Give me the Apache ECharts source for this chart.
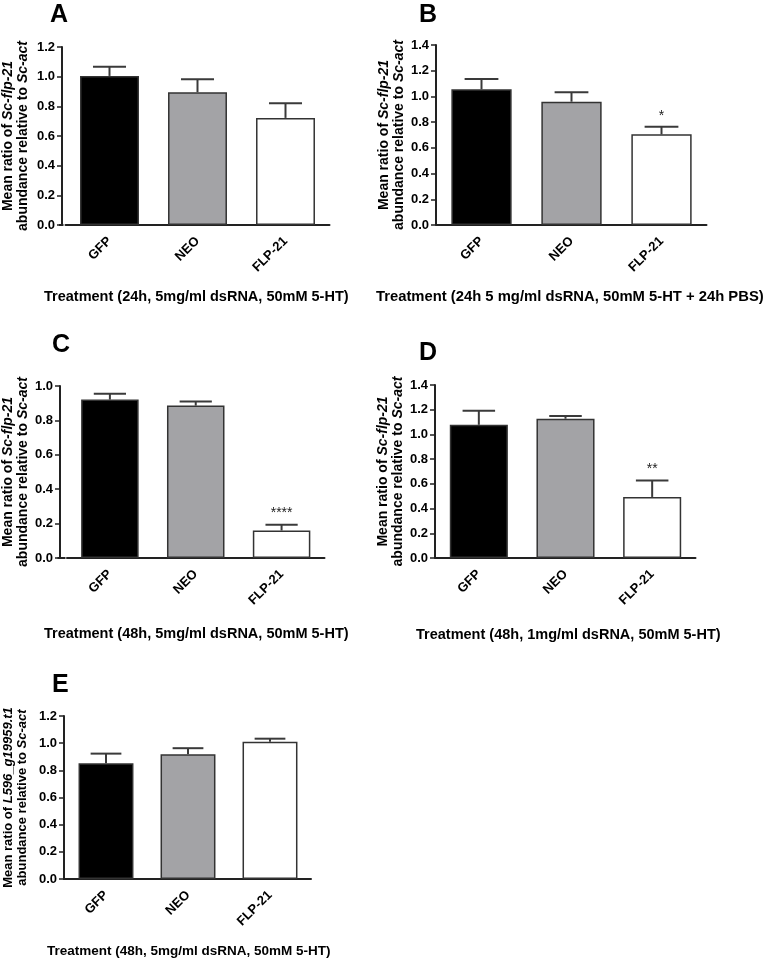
<!DOCTYPE html>
<html><head><meta charset="utf-8">
<script src="https://cdn.jsdelivr.net/npm/echarts@6/dist/echarts.min.js"></script>
<style>html,body{margin:0;padding:0;background:#fff}#c{width:768px;height:960px}</style>
</head><body><div id="c"></div>
<script>
const categories = ['GFP', 'NEO', 'FLP-21'];
const barColors = ['#000000', '#a3a3a6', '#ffffff'];

const meanA = [1.005, 0.895, 0.722];
const errA  = [0.062, 0.087, 0.098];
const sigA  = ['', '', ''];

const meanB = [1.055, 0.959, 0.705];
const errB  = [0.081, 0.073, 0.060];
const sigB  = ['', '', '*'];

const meanC = [0.921, 0.886, 0.160];
const errC  = [0.034, 0.024, 0.034];
const sigC  = ['', '', '****'];

const meanD = [1.078, 1.127, 0.494];
const errD  = [0.113, 0.023, 0.134];
const sigD  = ['', '', '**'];

const meanE = [0.852, 0.918, 1.011];
const errE  = [0.071, 0.045, 0.022];
const sigE  = ['', '', ''];

const yMaxes = [1.2, 1.4, 1.0, 1.4, 1.2];
const panelLetters = ['A', 'B', 'C', 'D', 'E'];
const xTitles = [
  'Treatment (24h, 5mg/ml dsRNA, 50mM 5-HT)',
  'Treatment (24h 5 mg/ml dsRNA, 50mM 5-HT + 24h PBS)',
  'Treatment (48h, 5mg/ml dsRNA, 50mM 5-HT)',
  'Treatment (48h, 1mg/ml dsRNA, 50mM 5-HT)',
  'Treatment (48h, 5mg/ml dsRNA, 50mM 5-HT)'
];
const yTitleGene = ['Sc-flp-21', 'Sc-flp-21', 'Sc-flp-21', 'Sc-flp-21', 'L596_g19959.t1'];

const means = [meanA, meanB, meanC, meanD, meanE];
const errs = [errA, errB, errC, errD, errE];
const sigs = [sigA, sigB, sigC, sigD, sigE];

// layout
const grids = [
  {left: 62.5, top: 47, width: 267, height: 178},
  {left: 436.5, top: 45, width: 270, height: 180},
  {left: 64.5, top: 386, width: 260, height: 172},
  {left: 435.5, top: 385, width: 260, height: 173},
  {left: 64, top: 716, width: 247, height: 163}
];
const yOffsets = [3.5, 0.5, 7, 0.5, 1];
const letterPos = [[50, 3], [419, 3], [52, 333], [419, 341], [52, 673]];
const xTitlePos = [[44, 289], [376, 289], [44, 626], [416, 627], [47, 944]];
const xTitleSize = [14.5, 14.8, 14.5, 14.5, 13.5];
const yNameSize = [14, 14, 14, 14, 13];
const yNameGap = [31, 28, 25, 26, 35];

const font = 'Liberation Sans, Arial, sans-serif';
const axisColor = '#222';

const option = {
  animation: false,
  backgroundColor: '#fff',
  textStyle: {fontFamily: font},
  title: [],
  grid: [], xAxis: [], yAxis: [], series: [], graphic: []
};

for (let i = 0; i < 5; i++) {
  option.title.push({
    text: panelLetters[i], left: letterPos[i][0], top: letterPos[i][1], padding: 0,
    textStyle: {fontSize: 25, fontWeight: 'bold', color: '#000', fontFamily: font}
  });
  option.title.push({
    text: xTitles[i], left: xTitlePos[i][0], top: xTitlePos[i][1], padding: 0,
    textStyle: {fontSize: xTitleSize[i], fontWeight: 'bold', color: '#000', fontFamily: font}
  });
  option.grid.push(Object.assign({containLabel: false}, grids[i]));
  option.xAxis.push({
    type: 'category', gridIndex: i, data: categories,
    axisLine: {lineStyle: {color: axisColor, width: 2}},
    axisTick: {alignWithLabel: true, length: 5, lineStyle: {color: axisColor, width: 1.5}},
    axisLabel: {rotate: 45, fontSize: 13, fontWeight: 'bold', color: '#000', margin: 14, fontFamily: font}
  });
  const ys = yNameSize[i];
  option.yAxis.push({
    type: 'value', gridIndex: i, min: 0, max: yMaxes[i], interval: 0.2,
    offset: yOffsets[i],
    splitLine: {show: false},
    axisLine: {show: true, lineStyle: {color: axisColor, width: 2}},
    axisTick: {show: true, length: 5, lineStyle: {color: axisColor, width: 1.5}},
    axisLabel: {fontSize: 13, fontWeight: 'bold', color: '#000', margin: 7, fontFamily: font,
      formatter: v => v.toFixed(1)},
    name: 'Mean ratio of {i|' + yTitleGene[i] + '}\nabundance relative to {i|Sc-act}',
    nameLocation: 'middle', nameRotate: 90, nameGap: yNameGap[i],
    nameTextStyle: {fontSize: ys, fontWeight: 'bold', color: '#000', lineHeight: ys + 1, fontFamily: font,
      rich: {i: {fontSize: ys, fontWeight: 'bold', fontStyle: 'italic', color: '#000', fontFamily: font, lineHeight: ys + 1}}}
  });
  // extend the x axis line to the offset y axis
  const g = grids[i];
  if (yOffsets[i] > 0) {
    option.graphic.push({
      type: 'line', z: 10,
      shape: {x1: g.left - yOffsets[i], y1: g.top + g.height, x2: g.left + 1, y2: g.top + g.height},
      style: {stroke: axisColor, lineWidth: 2}
    });
  }
  option.series.push({
    type: 'bar', xAxisIndex: i, yAxisIndex: i, barCategoryGap: '33%', z: 3,
    data: means[i].map((v, k) => ({value: v, itemStyle: {color: barColors[k], borderColor: '#333', borderWidth: 1.5}}))
  });
  const sig = sigs[i];
  option.series.push({
    type: 'custom', xAxisIndex: i, yAxisIndex: i, z: 2,
    data: means[i].map((v, k) => [k, v, errs[i][k]]),
    renderItem: function (params, api) {
      const k = api.value(0), m = api.value(1), e = api.value(2);
      const p0 = api.coord([k, m]);
      const p1 = api.coord([k, m + e]);
      const bw = api.size([1, 0])[0] * 0.67;
      const half = bw * 0.28;
      const style = {stroke: '#3a3a3a', lineWidth: 2};
      const children = [
        {type: 'line', shape: {x1: p0[0], y1: p0[1], x2: p1[0], y2: p1[1]}, style: style},
        {type: 'line', shape: {x1: p1[0] - half, y1: p1[1], x2: p1[0] + half, y2: p1[1]}, style: style}
      ];
      const s = sig[params.dataIndex];
      if (s) {
        children.push({type: 'text', style: {text: s, x: p1[0], y: p1[1] - 4, align: 'center',
          verticalAlign: 'bottom', fontSize: 14, fill: '#222', fontFamily: font}});
      }
      return {type: 'group', children: children};
    }
  });
}

const chart = echarts.init(document.getElementById('c'), null, {renderer: 'canvas'});
chart.setOption(option);
</script></body></html>
